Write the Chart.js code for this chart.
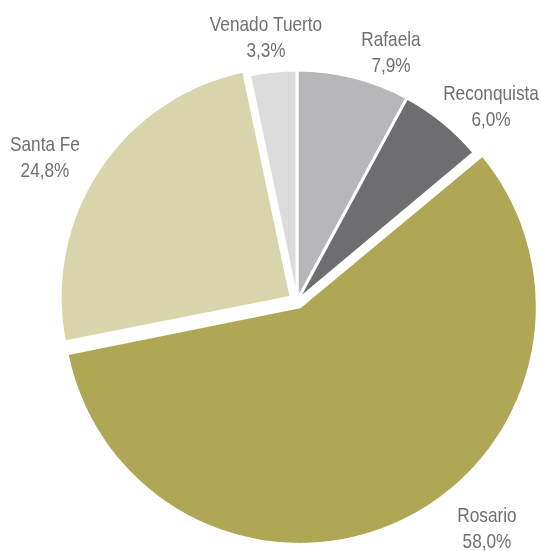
<!DOCTYPE html>
<html>
<head>
<meta charset="utf-8">
<script src="https://cdn.jsdelivr.net/npm/chart.js@4"></script>
<style>
  html, body { margin: 0; padding: 0; background: #fff; }
  #wrap { width: 541px; height: 551px; }
</style>
</head>
<body>
<div id="wrap"><canvas id="pie"></canvas></div>
<script>
// datos
const categories = ['Rafaela', 'Reconquista', 'Rosario', 'Santa Fe', 'Venado Tuerto'];
const shares = [7.9, 6.0, 58.0, 24.8, 3.3];
const shareLabels = ['7,9%', '6,0%', '58,0%', '24,8%', '3,3%'];

const colors = ['#b7b7b9', '#6e6e70', '#afa755', '#d8d4ab', '#dcdcdd'];
const explode = [0, 0, 26, 28, 0];
// centro de cada etiqueta (x, y de la primera linea)
const labelPos = [[391, 40], [491, 94], [487, 516], [45, 145], [266, 25]];

const labelPlugin = {
  id: 'sliceLabels',
  afterDraw(chart) {
    const ctx = chart.ctx;
    const squeeze = 0.82; // fuente condensada
    ctx.save();
    ctx.font = '21px "Liberation Sans", Arial, sans-serif';
    ctx.fillStyle = '#707070';
    ctx.textAlign = 'center';
    ctx.textBaseline = 'middle';
    categories.forEach((c, i) => {
      const [x, y] = labelPos[i];
      ctx.save();
      ctx.translate(x, 0);
      ctx.scale(squeeze, 1);
      ctx.fillText(c, 0, y);
      ctx.fillText(shareLabels[i], 0, y + 26);
      ctx.restore();
    });
    ctx.restore();
  }
};

const setupPie = () => {
  const ctx = document.getElementById('pie').getContext('2d');
  new Chart(ctx, {
    type: 'pie',
    data: {
      labels: categories,
      datasets: [{
        data: shares,
        backgroundColor: colors,
        borderColor: '#ffffff',
        borderWidth: 3,
        offset: explode
      }]
    },
    options: {
      responsive: true,
      maintainAspectRatio: false,
      animation: false,
      events: [],
      radius: 231,
      layout: { padding: { left: 53, right: 0, top: 51, bottom: 0 } },
      plugins: {
        legend: { display: false },
        tooltip: { enabled: false }
      }
    },
    plugins: [labelPlugin]
  });
};
document.addEventListener('DOMContentLoaded', () => {
  setupPie();
});
</script>
</body>
</html>
